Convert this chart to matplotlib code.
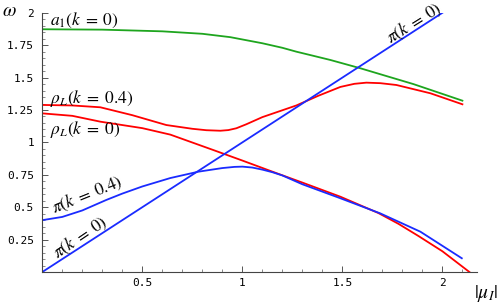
import matplotlib
matplotlib.use("Agg")
import matplotlib.pyplot as plt
from matplotlib.ticker import MultipleLocator

# ── Data ────────────────────────────────────────────────────────────────────
pi0_x = [0.0, 2.0]
pi0_y = [0.0, 2.0]

pi04_x = [0.0, 0.1, 0.2, 0.32, 0.4, 0.5, 0.64, 0.78, 0.9, 0.96, 1.0, 1.05, 1.1, 1.15, 1.2, 1.3,
          1.49, 1.69, 1.89, 2.097]
pi04_y = [0.40, 0.425, 0.475, 0.556, 0.605, 0.66, 0.725, 0.774, 0.802, 0.811, 0.813, 0.806, 0.79,
          0.77, 0.745, 0.677, 0.569, 0.452, 0.311, 0.106]

rho0_x = [0.0, 0.15, 0.29, 0.5, 0.64, 0.855, 1.0, 1.14, 1.3, 1.49, 1.68, 1.78, 1.88, 2.0, 2.135]
rho0_y = [1.224, 1.205, 1.16, 1.11, 1.06, 0.941, 0.86, 0.78, 0.69, 0.581, 0.455, 0.372, 0.278, 0.16, 0.0]

rho04_x = [0.0, 0.15, 0.29, 0.45, 0.62, 0.75, 0.82, 0.89, 0.93, 0.97, 1.02, 1.10, 1.27, 1.38, 1.49,
           1.56, 1.62, 1.69, 1.77, 1.94, 2.10]
rho04_y = [1.289, 1.285, 1.271, 1.21, 1.134, 1.105, 1.094, 1.09, 1.095, 1.109, 1.14, 1.195, 1.285,
           1.36, 1.428, 1.452, 1.461, 1.457, 1.443, 1.379, 1.294]

a1_x = [0.0, 0.3, 0.6, 0.8, 0.94, 1.10, 1.2, 1.27, 1.35, 1.44, 1.59, 1.72, 1.855, 2.10]
a1_y = [1.873, 1.870, 1.857, 1.838, 1.812, 1.765, 1.73, 1.70, 1.67, 1.636, 1.572, 1.512, 1.45, 1.322]

x_ticks = [0.5, 1.0, 1.5, 2.0]
x_ticklabels = ["0.5", "1", "1.5", "2"]
y_ticks = [0.25, 0.5, 0.75, 1.0, 1.25, 1.5, 1.75, 2.0]
y_ticklabels = ["0.25", "0.5", "0.75", "1", "1.25", "1.5", "1.75", "2"]

RED = "#ff0000"
BLUE = "#1a2bff"
GREEN = "#1ea51e"

plt.rcParams["mathtext.fontset"] = "stix"

# ── Figure ──────────────────────────────────────────────────────────────────
W, H = 499, 306
fig = plt.figure(figsize=(W / 100, H / 100), dpi=100)
ax = fig.add_axes([42.3 / W, (H - 272) / H, (477 - 42.3) / W, (272 - 12.8) / H])
ax.set_xlim(0, 2.173)
ax.set_ylim(0, 2.0)

lw = 1.3
ax.plot(a1_x, a1_y, color=GREEN, lw=lw)
ax.plot(rho04_x, rho04_y, color=RED, lw=lw)
ax.plot(rho0_x, rho0_y, color=RED, lw=lw)
ax.plot(pi04_x, pi04_y, color=BLUE, lw=lw)
ax.plot(pi0_x, pi0_y, color=BLUE, lw=lw)

# ── Axes styling (Mathematica-like) ─────────────────────────────────────────
for s in ["top", "right"]:
    ax.spines[s].set_visible(False)
for s in ["left", "bottom"]:
    ax.spines[s].set_color("#444444")
    ax.spines[s].set_linewidth(0.8)

ax.set_xticks(x_ticks)
ax.set_xticklabels(x_ticklabels)
ax.set_yticks(y_ticks)
ax.set_yticklabels(y_ticklabels)
ax.xaxis.set_minor_locator(MultipleLocator(0.1))
ax.yaxis.set_minor_locator(MultipleLocator(0.05))
ax.tick_params(which="major", direction="in", length=4, width=0.7, color="#555555",
               labelsize=8, pad=4)
ax.tick_params(which="minor", direction="in", length=2, width=0.6, color="#777777")
for lab in ax.get_xticklabels() + ax.get_yticklabels():
    lab.set_fontfamily("DejaVu Sans Mono")
ax.tick_params(axis="y", pad=6)

# ── Curve labels ────────────────────────────────────────────────────────────
fs = 12.5
ax.text(0.04, 1.944, r"$a_1(k\;=\;0)$", fontsize=fs, ha="left", va="center")
ax.text(0.04, 1.335, r"$\rho_L(k\;=\;0.4)$", fontsize=fs, ha="left", va="center")
ax.text(0.04, 1.103, r"$\rho_L(k\;=\;0)$", fontsize=fs, ha="left", va="center")
ax.text(0.225, 0.594, r"$\pi(k\;=\;0.4)$", fontsize=fs, ha="center", va="center",
        rotation=22, rotation_mode="anchor")
ax.text(0.19, 0.268, r"$\pi(k\;=\;0)$", fontsize=fs, ha="center", va="center",
        rotation=34, rotation_mode="anchor")
ax.text(1.86, 1.919, r"$\pi(k\;=\;0)$", fontsize=fs, ha="center", va="center",
        rotation=32, rotation_mode="anchor")

# ── Axis labels ─────────────────────────────────────────────────────────────
fig.text(2 / W, 1 - 1 / H, r"$\omega$", fontsize=14, ha="left", va="top")
fig.text(498 / W, 1 - 304 / H, r"$|\mu_I|$", fontsize=14, ha="right", va="bottom")

fig.savefig("out.png", dpi=100)
